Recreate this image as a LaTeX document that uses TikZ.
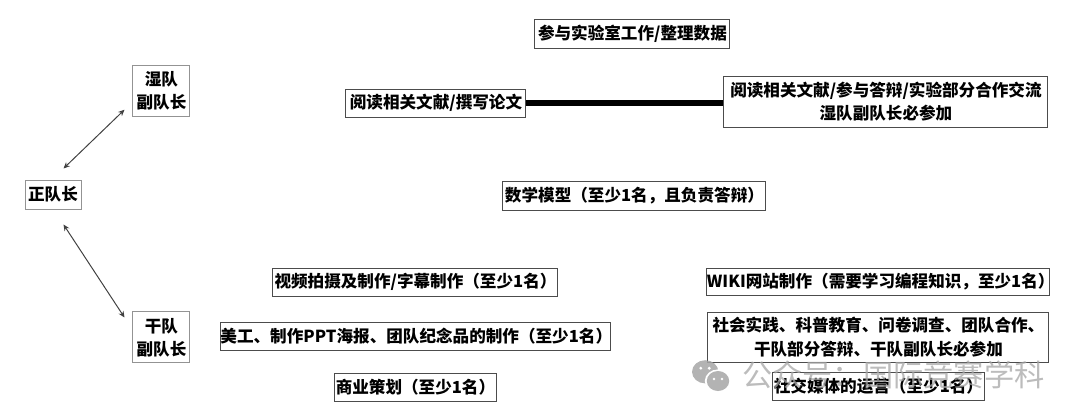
\documentclass[tikz,border=0pt]{standalone}
\usepackage{fontspec}
\setmainfont{Noto Sans CJK SC}
\usetikzlibrary{arrows.meta,positioning,calc}
\tikzset{
  tbox/.style 2 args={
    rectangle, draw=black!70, line width=0.7pt, fill=white,
    inner sep=0pt, text width=#1, minimum height=#2,
    align=center, font=\fontsize{11.8}{16.5}\selectfont\bfseries
  },
  lbox/.style 2 args={
    tbox={#1}{#2}, draw=gray!85
  },
  arr/.style={{Stealth[length=4.5pt,width=4pt]}-{Stealth[length=4.5pt,width=4pt]}, line width=0.7pt, black!75},
  thickline/.style={line width=4.4pt, black},
  wmark/.style={font=\fontsize{21.5}{24}\selectfont, text=gray!70, opacity=0.75, inner sep=0pt},
  wicon/.style={gray!70, opacity=0.85}
}
\begin{document}
\begin{tikzpicture}
\useasboundingbox (0,0) rectangle (27,10.475);

% Captains
\node[lbox={1.4cm}{0.725cm}] (captain) at (1.325,5.6125) {正队长};
\node[lbox={1.425cm}{1.275cm}, above right=1.57cm and 1.275cm of captain] (wetvice)
  {湿队\\副队长};
\node[lbox={1.425cm}{1.275cm}, below right=2.55cm and 1.275cm of captain] (dryvice)
  {干队\\副队长};

% Wet team
\node[tbox={4.5cm}{0.7cm}, right=3.875cm of wetvice, yshift=-0.31cm] (readleft)
  {阅读相关文献/撰写论文};
\node[tbox={4.875cm}{0.725cm}, above right=1.0cm and 0.2cm of readleft] (labwork)
  {参与实验室工作/整理数据};
\node[tbox={8.1cm}{1.275cm}, right=4.925cm of readleft, yshift=0.0375cm] (readright)
  {阅读相关文献/参与答辩/实验部分合作交流\\湿队副队长必参加};
\node[tbox={6.575cm}{0.725cm}, below right=1.575cm and -0.6cm of readleft] (mathmodel)
  {数学模型（至少1名，且负责答辩）};

% Dry team
\node[tbox={7.125cm}{0.7cm}, below left=1.425cm and -1.4cm of mathmodel] (video)
  {视频拍摄及制作/字幕制作（至少1名）};
\node[tbox={9.75cm}{0.7cm}, below=0.625cm of video] (artwork)
  {美工、制作PPT海报、团队纪念品的制作（至少1名）};
\node[tbox={4.05cm}{0.7cm}, below=0.55cm of artwork] (business)
  {商业策划（至少1名）};
\node[tbox={8.575cm}{0.675cm}, below right=1.425cm and -1.5cm of mathmodel] (wiki)
  {WIKI网站制作（需要学习编程知识，至少1名）};
\node[tbox={8.525cm}{1.25cm}, below=0.4cm of wiki] (social)
  {社会实践、科普教育、问卷调查、团队合作、\\干队部分答辩、干队副队长必参加};
\node[tbox={5.3cm}{0.7cm}, below=0.225cm of social] (media)
  {社交媒体的运营（至少1名）};

% Arrows
\draw[arr] ($(captain.north east)+(-0.45,0.275)$) -- ($(wetvice.south west)+(-0.2,0.175)$);
\draw[arr] ($(captain.south east)+(-0.45,-0.375)$) -- ($(dryvice.north west)+(-0.2,-0.15)$);
\draw[thickline] (readleft.east) -- (readright.west |- readleft.east);

% Watermark
\node[wmark, anchor=west] (wechatmark) at (18.55,1.1) {公众号：国际竞赛学科};
\fill[wicon] ($(wechatmark.west)+(-0.92,0.08)$) ellipse (0.33 and 0.29);
\fill[white] ($(wechatmark.west)+(-0.6,-0.15)$) ellipse (0.33 and 0.29);
\fill[wicon] ($(wechatmark.west)+(-0.6,-0.15)$) ellipse (0.28 and 0.25);
\fill[white] ($(wechatmark.west)+(-1.03,0.17)$) circle (0.04);
\fill[white] ($(wechatmark.west)+(-0.82,0.17)$) circle (0.04);
\fill[white] ($(wechatmark.west)+(-0.7,-0.1)$) circle (0.035);
\fill[white] ($(wechatmark.west)+(-0.5,-0.1)$) circle (0.035);

\end{tikzpicture}
\end{document}
